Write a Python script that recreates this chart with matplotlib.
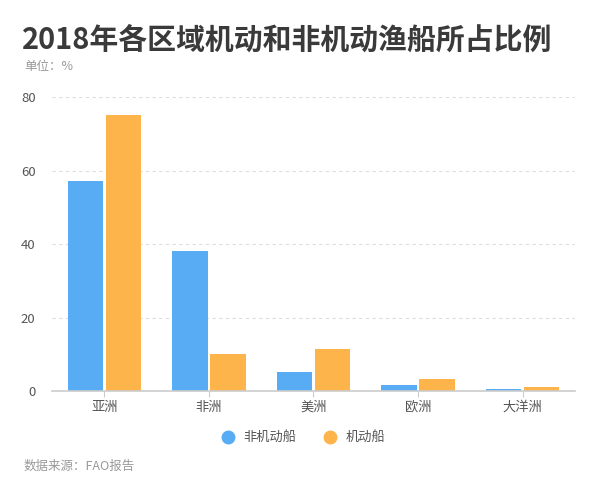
import matplotlib.pyplot as plt
import numpy as np
from matplotlib.lines import Line2D

plt.rcParams['font.family'] = ['Noto Sans CJK SC', 'DejaVu Sans']

# Daten
regionen = ["亚洲", "非洲", "美洲", "欧洲", "大洋洲"]
nicht_motor = [57.1, 38.1, 5.2, 1.6, 0.7]   # 非机动船
motor = [75.1, 10.1, 11.4, 3.2, 1.2]        # 机动船

blau = '#58acf4'
orange = '#fdb44b'

fig = plt.figure(figsize=(6, 4.8), dpi=100)
ax = fig.add_axes([0.087, 0.185, 0.871, 0.613])

x = np.arange(len(regionen))
breite = 0.34
ax.bar(x - breite / 2 - 0.01, nicht_motor, breite, color=blau)
ax.bar(x + breite / 2 + 0.01, motor, breite, color=orange)

ax.set_xlim(-0.5, len(regionen) - 0.5)
ax.set_ylim(0, 80)
ax.set_yticks([0, 20, 40, 60, 80])
ax.set_xticks(x)
ax.set_xticklabels(regionen)
ax.tick_params(axis='y', length=0, labelsize=9.5, labelcolor='#555555', pad=12)
ax.tick_params(axis='x', length=4, color='#cccccc', labelsize=9.5, labelcolor='#555555', pad=3)
ax.grid(axis='y', linestyle=(0, (3, 3)), color='#dddddd', linewidth=0.8)
ax.set_axisbelow(True)
for s in ['top', 'right', 'left']:
    ax.spines[s].set_visible(False)
ax.spines['bottom'].set_color('#cccccc')
ax.spines['bottom'].set_linewidth(1.2)

# Texte
fig.text(0.037, 0.918, "2018年各区域机动和非机动渔船所占比例", fontsize=20.8, fontweight='bold',
         color='#3a3a3a', va='center', ha='left')
fig.text(0.04, 0.862, "单位：%", fontsize=9, color='#999999', va='center', ha='left')
fig.text(0.04, 0.028, "数据来源：FAO报告", fontsize=9, color='#999999', va='center', ha='left')

handles = [Line2D([], [], marker='o', linestyle='', markersize=9, color=blau),
           Line2D([], [], marker='o', linestyle='', markersize=9, color=orange)]
fig.legend(handles, ["非机动船", "机动船"], loc='center', bbox_to_anchor=(0.5, 0.088), ncol=2,
           frameon=False, fontsize=9.5, labelcolor='#555555', handletextpad=0.2, columnspacing=1.5)

plt.savefig('out.png', dpi=100)
